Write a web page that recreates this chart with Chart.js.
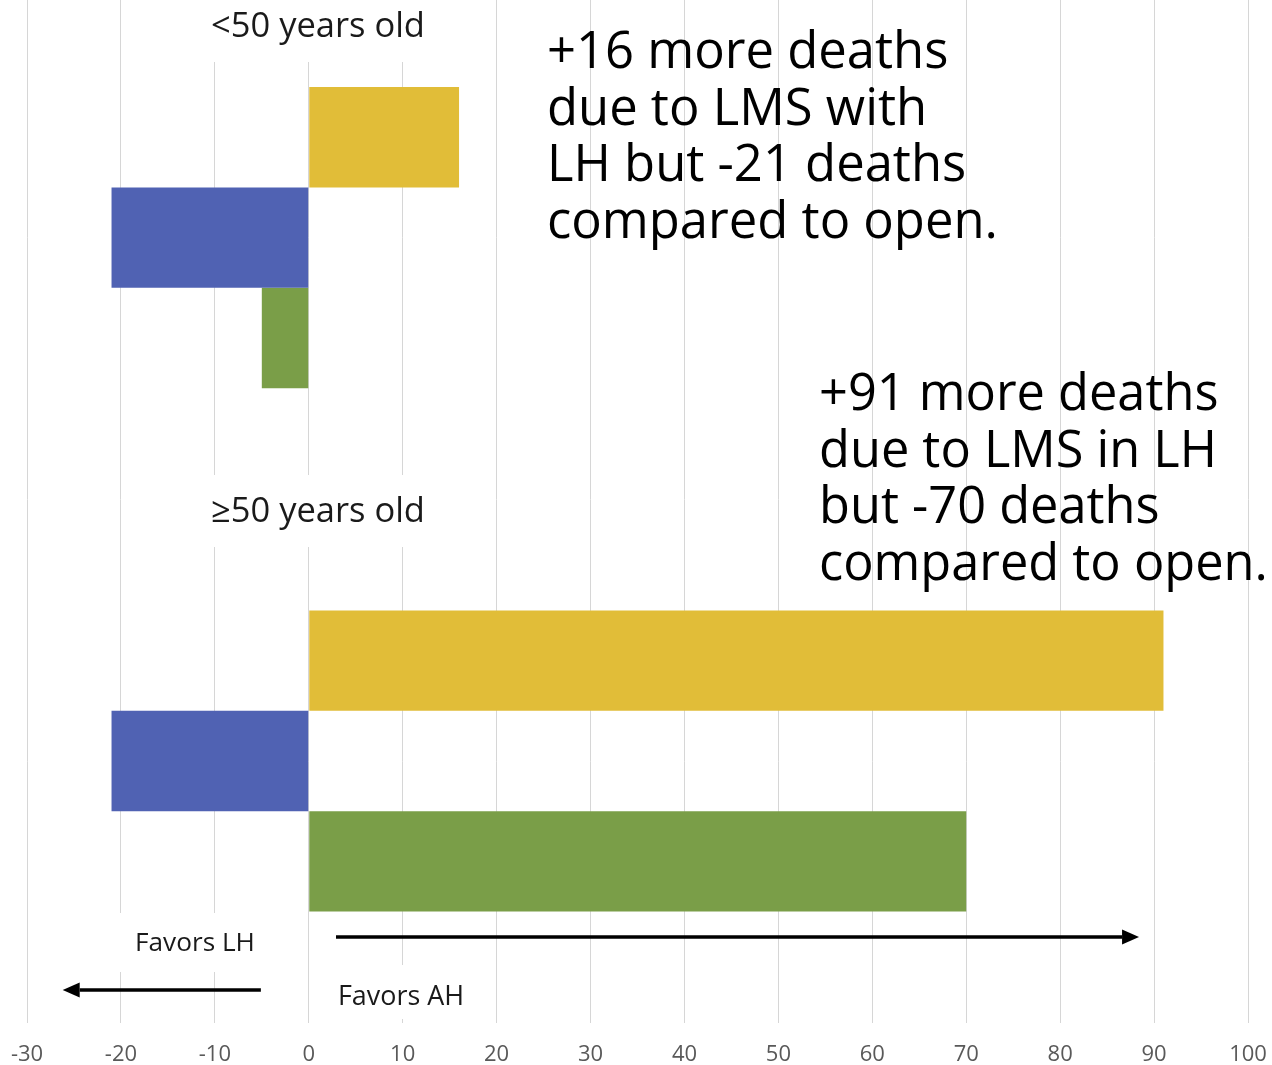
<!DOCTYPE html>
<html>
<head>
<meta charset="utf-8">
<script src="https://cdn.jsdelivr.net/npm/chart.js@4.4.0/dist/chart.umd.min.js"></script>
<style>
  html, body { margin: 0; padding: 0; background: #ffffff; overflow: hidden; }
  #wrap { position: relative; width: 1272px; height: 1065px; overflow: hidden; background: #ffffff; }
  #wrap canvas { position: absolute; left: 0; top: -24px; }
</style>
</head>
<body>
<div id="wrap"><canvas id="chart" width="1272" height="1111" style="width:1272px;height:1111px"></canvas></div>
<script>
// ---- Data ----
const categories = ['<50 years old', '≥50 years old'];
const lmsDeathsLH = [16, 91];        // yellow
const deathsLHvsOpen = [-21, -21];   // blue
const deathsAHvsOpen = [-5, 70];     // green
const xMin = -30;
const xMax = 100;
const xStep = 10;

const noteYoung = ['+16 more deaths', 'due to LMS with', 'LH but -21 deaths', 'compared to open.'];
const noteOld = ['+91 more deaths', 'due to LMS in LH', 'but -70 deaths', 'compared to open.'];
const favorsLH = 'Favors LH';
const favorsAH = 'Favors AH';
// arrow extents in axis units
const arrowAH = [2.9, 88.4];
const arrowLH = [-5.1, -26.2];

// ---- Style ----
const OFF = 24; // canvas is shifted up by this many px
const FAMILY = "'Open Sans', 'Noto Sans', sans-serif";
const colors = ['#E1BD38', '#5062B3', '#7A9E48'];

function fitSize(ctx, text, width) {
  ctx.font = '100px ' + FAMILY;
  return 100 * width / ctx.measureText(text).width;
}

const overlay = {
  id: 'overlay',
  beforeDatasetsDraw(chart) {
    const ctx = chart.ctx;
    ctx.save();
    ctx.fillStyle = '#ffffff';
    // white boxes behind the label texts (they hide the gridlines)
    [[135, -5, 350, 67], [135, 475, 350, 72], [100, 913, 190, 59], [320, 965, 165, 54]]
      .forEach(b => ctx.fillRect(b[0], b[1] + OFF, b[2], b[3]));
    ctx.restore();
  },
  afterDatasetsDraw(chart) {
    const ctx = chart.ctx;
    const xs = chart.scales.x;
    ctx.save();
    ctx.textBaseline = 'middle';
    // category labels
    ctx.fillStyle = '#1a1a1a';
    ctx.textAlign = 'center';
    let s = fitSize(ctx, categories[0], 214);
    ctx.font = s + 'px ' + FAMILY;
    ctx.fillText(categories[0], 318, 27 + OFF);
    s = fitSize(ctx, categories[1], 214);
    ctx.font = s + 'px ' + FAMILY;
    ctx.fillText(categories[1], 318, 512 + OFF);
    // favors labels
    ctx.textAlign = 'left';
    s = fitSize(ctx, favorsLH, 120);
    ctx.font = s + 'px ' + FAMILY;
    ctx.fillText(favorsLH, 135, 944 + OFF);
    s = fitSize(ctx, favorsAH, 126);
    ctx.font = s + 'px ' + FAMILY;
    ctx.fillText(favorsAH, 338, 997 + OFF);
    // big notes
    ctx.fillStyle = '#000000';
    ctx.textBaseline = 'alphabetic';
    s = fitSize(ctx, noteYoung[3], 451);
    ctx.font = s + 'px ' + FAMILY;
    noteYoung.forEach((t, i) => ctx.fillText(t, 547, 68 + i * 56.5 + OFF));
    s = fitSize(ctx, noteOld[3], 449);
    ctx.font = s + 'px ' + FAMILY;
    noteOld.forEach((t, i) => ctx.fillText(t, 819, 410 + i * 56.5 + OFF));
    // arrows
    function arrow(v0, v1, y) {
      const x0 = xs.getPixelForValue(v0), x1 = xs.getPixelForValue(v1);
      const dir = Math.sign(x1 - x0);
      const head = 17;
      ctx.strokeStyle = '#000';
      ctx.fillStyle = '#000';
      ctx.lineWidth = 3.5;
      ctx.beginPath();
      ctx.moveTo(x0, y + OFF);
      ctx.lineTo(x1 - dir * head, y + OFF);
      ctx.stroke();
      ctx.beginPath();
      ctx.moveTo(x1, y + OFF);
      ctx.lineTo(x1 - dir * head, y + OFF - 7.5);
      ctx.lineTo(x1 - dir * head, y + OFF + 7.5);
      ctx.closePath();
      ctx.fill();
    }
    arrow(arrowAH[0], arrowAH[1], 937);
    arrow(arrowLH[0], arrowLH[1], 990);
    ctx.restore();
  }
};

new Chart(document.getElementById('chart'), {
  type: 'bar',
  data: {
    labels: categories,
    datasets: [
      { label: 'LMS deaths with LH', data: lmsDeathsLH, backgroundColor: colors[0] },
      { label: 'Deaths LH vs open', data: deathsLHvsOpen, backgroundColor: colors[1] },
      { label: 'Deaths AH vs open', data: deathsAHvsOpen, backgroundColor: colors[2] }
    ]
  },
  options: {
    indexAxis: 'y',
    responsive: false,
    animation: false,
    devicePixelRatio: 1,
    layout: { padding: { left: 27, right: 24, top: 0, bottom: 0 } },
    datasets: { bar: { categoryPercentage: 0.5753, barPercentage: 1, borderWidth: 0 } },
    plugins: { legend: { display: false }, tooltip: { enabled: false } },
    scales: {
      x: {
        min: xMin, max: xMax,
        ticks: { stepSize: xStep, padding: 19, color: '#595959', font: { family: FAMILY, size: 22 } },
        grid: { color: '#d6d6d6', lineWidth: 1, drawTicks: false },
        border: { display: false },
        afterFit(scale) { scale.paddingLeft = 0; scale.paddingRight = 0; }
      },
      y: { display: false }
    }
  },
  plugins: [overlay]
});
</script>
</body>
</html>
